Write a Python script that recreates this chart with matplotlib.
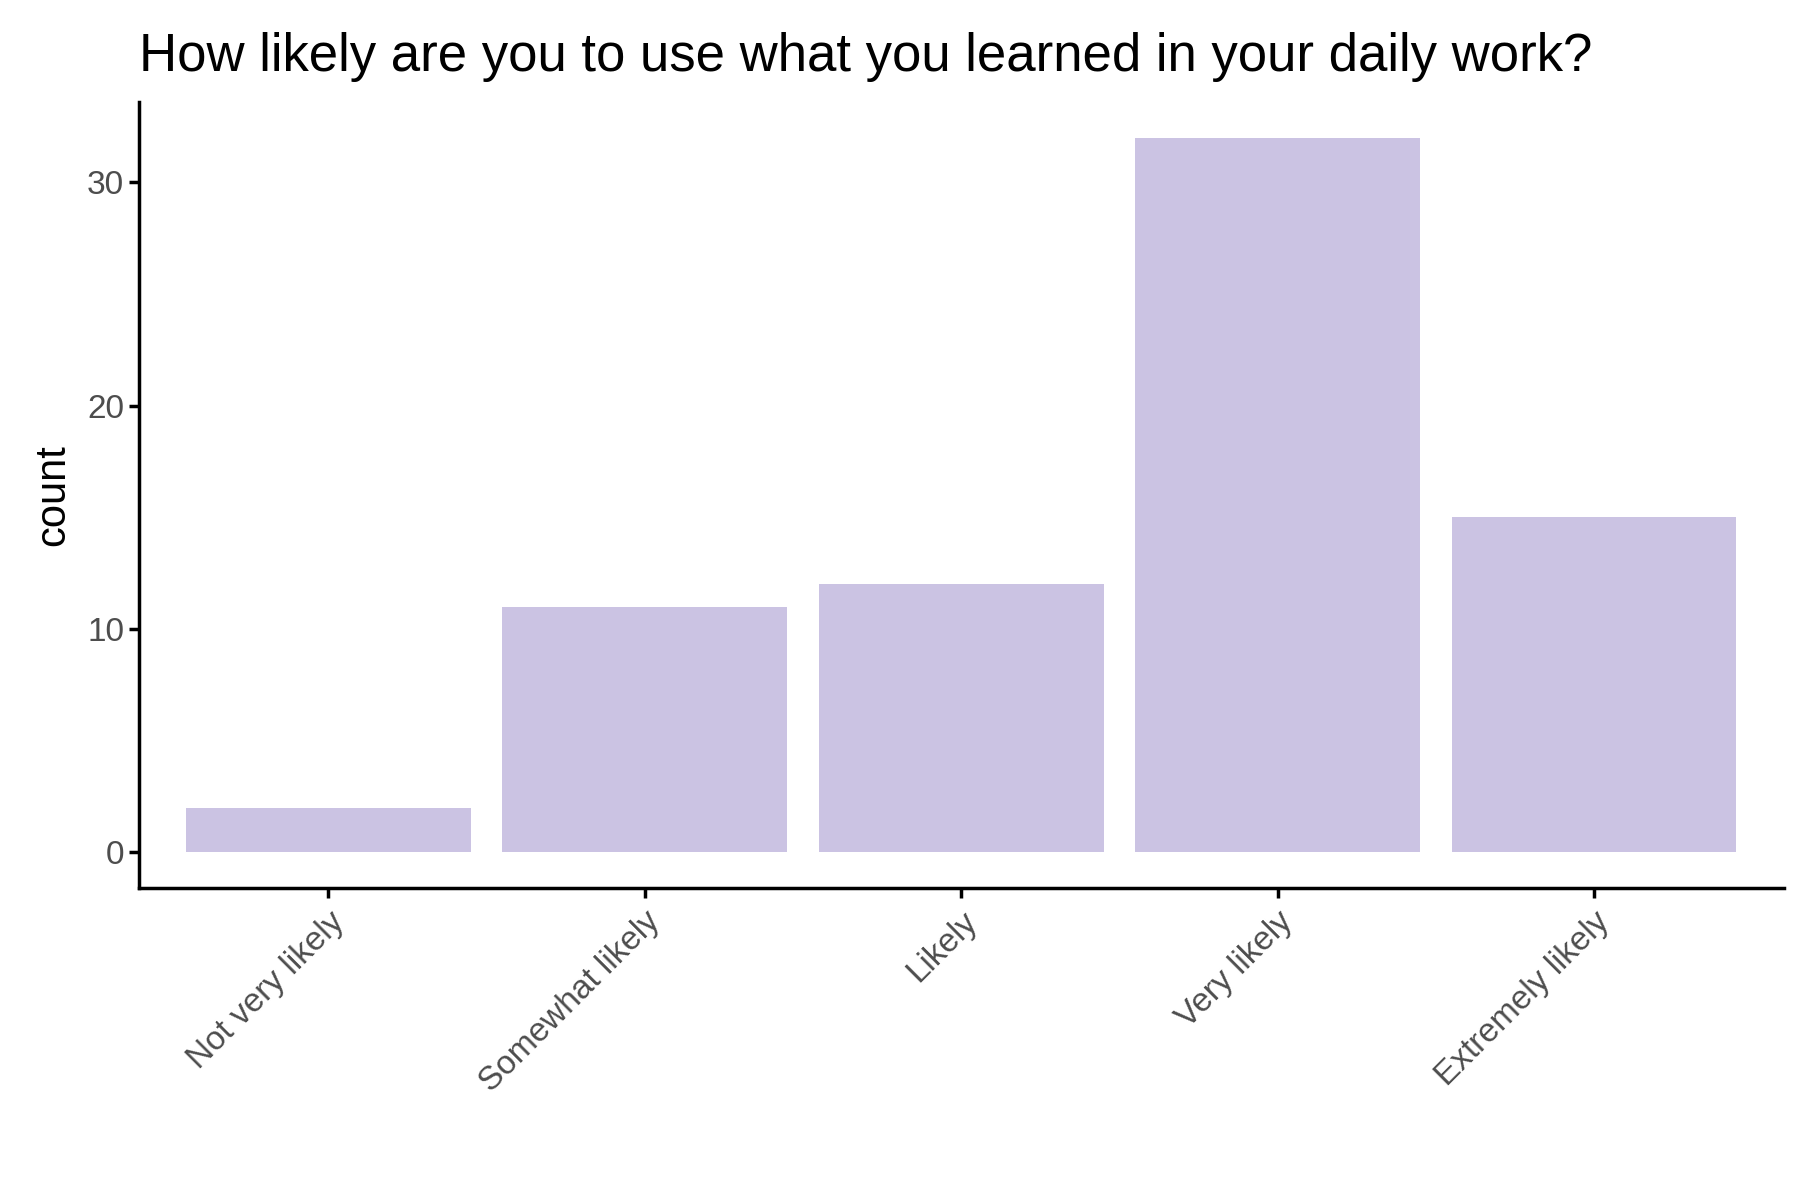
import matplotlib
matplotlib.use("Agg")
import matplotlib.pyplot as plt

categories = ["Not very likely", "Somewhat likely", "Likely", "Very likely", "Extremely likely"]
counts = [2, 11, 12, 32, 15]
yticks = [0, 10, 20, 30]

plt.rcParams['font.family'] = ['Liberation Sans', 'DejaVu Sans']
fig = plt.figure(figsize=(18, 12), dpi=100)
ax = fig.add_axes([0.077, 0.26, 0.914, 0.655])
x = list(range(1, len(categories) + 1))
ax.bar(x, counts, width=0.9, color="#CBC3E3")
ax.set_xlim(0.4, 5.6)
ax.set_ylim(-1.6, 33.6)
ax.set_xticks(x)
ax.set_xticklabels(categories, rotation=45, ha="right", rotation_mode="anchor", fontsize=24, color="#4D4D4D")
ax.set_yticks(yticks)
ax.set_yticklabels([str(v) for v in yticks], fontsize=24, color="#4D4D4D")
ax.tick_params(axis="both", length=7, width=2.5, color="black")
ax.tick_params(axis="x", pad=6)
for s in ["top", "right"]:
    ax.spines[s].set_visible(False)
for s in ["left", "bottom"]:
    ax.spines[s].set_linewidth(2.5)
ax.set_ylabel("count", fontsize=30, labelpad=10)
ax.set_title("How likely are you to use what you learned in your daily work?", fontsize=38, loc="left", pad=22)
fig.savefig("out.png", dpi=100)
